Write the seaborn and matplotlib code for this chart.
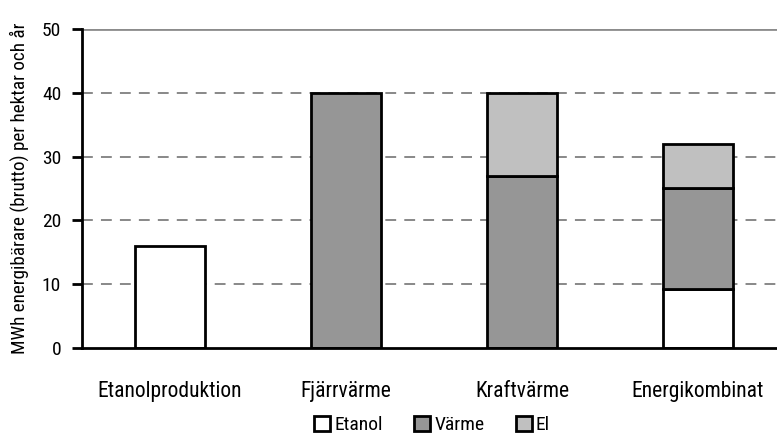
import matplotlib
matplotlib.use("Agg")
import matplotlib.pyplot as plt
import seaborn as sns
import pandas as pd
from matplotlib.patches import Patch

categories = ["Etanolproduktion", "Fjärrvärme", "Kraftvärme", "Energikombinat"]
etanol = [16, 0, 0, 9.3]
varme = [0, 40, 27, 15.7]
el = [0, 0, 13, 7]
series_names = ["Etanol", "Värme", "El"]
colors = ["#ffffff", "#969696", "#c0c0c0"]
yticks = [0, 10, 20, 30, 40, 50]

sns.set_theme(style="white")
plt.rcParams["font.family"] = ["Roboto Condensed", "DejaVu Sans"]

fig = plt.figure(figsize=(7.77, 4.36), dpi=100)
ax = fig.add_axes([82 / 777, 1 - 348 / 436, 704 / 777, (348 - 29) / 436])

df = pd.DataFrame({"kategori": categories, "Etanol": etanol, "Värme": varme, "El": el})
bottom = [0.0] * len(categories)
for name, col in zip(series_names, colors):
    vals = df[name].tolist()
    sns.barplot(x=df["kategori"], y=vals, bottom=bottom, color=col, order=categories,
                width=0.4, edgecolor="black", linewidth=2, saturation=1, ax=ax, zorder=3)
    bottom = [b + v for b, v in zip(bottom, vals)]

# hide zero-height segments
for p in ax.patches:
    if p.get_height() == 0:
        p.set_visible(False)

ax.set_xlim(-0.5, 3.5)
ax.set_ylim(0, 50)
ax.set_yticks(yticks)
ax.set_yticklabels([str(t) for t in yticks])
for t in yticks[1:-1]:
    ax.axhline(t, color="#7f7f7f", linestyle=(0, (6, 4.5)), linewidth=1.3, zorder=1)
ax.axhline(50, color="#8c8c8c", linewidth=2, zorder=1)

for side in ["top", "right"]:
    ax.spines[side].set_visible(False)
for side in ["left", "bottom"]:
    ax.spines[side].set_color("black")
    ax.spines[side].set_linewidth(2)
    ax.spines[side].set_zorder(4)

ax.tick_params(axis="y", left=True, length=7, width=2, color="black", labelsize=14, pad=8,
               labelcolor="black")
ax.tick_params(axis="x", bottom=False, labelsize=15.5, pad=18, labelcolor="black")
ax.set_xlabel("")
ax.set_ylabel("MWh energibärare (brutto) per hektar och år", fontsize=13.8, labelpad=9,
              color="black")

handles = [Patch(facecolor=c, edgecolor="black", linewidth=2) for c in colors]
fig.legend(handles, series_names, loc="center", bbox_to_anchor=(432 / 777, 1 - 425 / 436),
           ncol=3, frameon=False, fontsize=14, handlelength=0.85, handleheight=0.85,
           handletextpad=0.2, columnspacing=1.6, labelcolor="black", borderpad=0.1)

fig.savefig("out.png", dpi=100)
